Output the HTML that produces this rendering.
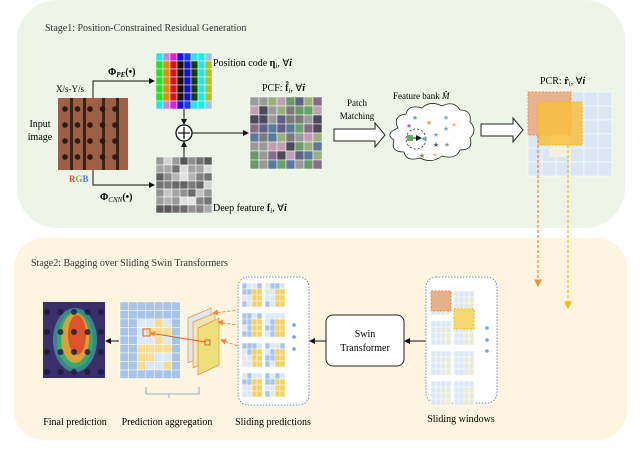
<!DOCTYPE html>
<html><head><meta charset="utf-8"><style>
body{margin:0;background:#fff;}
svg{display:block;font-family:"Liberation Serif",serif;}
</style></head><body>
<svg id="s" width="640" height="459" viewBox="0 0 640 459" xmlns="http://www.w3.org/2000/svg">
<defs>
<marker id="ah" markerWidth="6" markerHeight="6" refX="5" refY="3" orient="auto"><path d="M0,0 L6,3 L0,6 z" fill="#111"/></marker>
<marker id="ao" markerWidth="6" markerHeight="6" refX="5" refY="3" orient="auto"><path d="M0,0 L6,3 L0,6 z" fill="#f08a3c"/></marker>
<marker id="ay" markerWidth="6" markerHeight="6" refX="5" refY="3" orient="auto"><path d="M0,0 L6,3 L0,6 z" fill="#f5b800"/></marker>
</defs>
<rect x="17" y="0" width="608" height="228" rx="40" fill="#eef5e8"/>
<rect x="14" y="238" width="613" height="202" rx="30" fill="#fdf5df"/>
<text x="45" y="31" font-size="10" fill="#333">Stage1: Position-Constrained Residual Generation</text>
<text x="31" y="266" font-size="10" fill="#333">Stage2: Bagging over Sliding Swin Transformers</text>

<rect x="58" y="98" width="70" height="72" fill="#9e5f47"/>
<g fill="#3a2418"><rect x="70" y="98" width="3" height="72"/><rect x="83" y="98" width="3" height="72"/><rect x="102" y="98" width="3" height="72"/><rect x="116" y="98" width="3" height="72"/></g>
<g id="dots" fill="#2a1a12"></g>
<text x="40" y="127" font-size="10" text-anchor="middle">Input</text>
<text x="40" y="140" font-size="10" text-anchor="middle">image</text>
<text x="56" y="92" font-size="9">X/s-Y/s</text>
<text x="69" y="182" font-size="9" font-weight="bold"><tspan fill="#e8503a">R</tspan><tspan fill="#6ab04c">G</tspan><tspan fill="#4a7fd0">B</tspan></text>

<path d="M93,98 V81 H154" stroke="#111" fill="none" marker-end="url(#ah)"/>
<path d="M93,170 V185 H154" stroke="#111" fill="none" marker-end="url(#ah)"/>
<text x="108" y="75" font-size="10" font-weight="bold">Φ<tspan font-size="7" font-style="italic" dy="2">PE</tspan><tspan dy="-2">(•)</tspan></text>
<text x="100" y="200" font-size="10" font-weight="bold">Φ<tspan font-size="7" font-style="italic" dy="2" font-weight="normal">CNN</tspan><tspan dy="-2">(•)</tspan></text>

<g id="pos"></g>
<g id="deep"></g>
<g id="pcf"></g>
<line x1="184" y1="109" x2="184" y2="124" stroke="#111" marker-end="url(#ah)"/>
<line x1="184" y1="157" x2="184" y2="142" stroke="#111" marker-end="url(#ah)"/>
<circle cx="184" cy="133" r="8" fill="#fff" stroke="#111" stroke-width="1.3"/>
<path d="M178,133 H190 M184,127 V139" stroke="#111" stroke-width="1.3"/>
<line x1="192" y1="133" x2="248" y2="133" stroke="#111" marker-end="url(#ah)"/>
<text x="213" y="66" font-size="10">Position code <tspan font-weight="bold">η</tspan><tspan font-size="7" font-style="italic" dy="2">i</tspan><tspan dy="-2">,  ∀</tspan><tspan font-style="italic" font-weight="bold">i</tspan></text>
<text x="213" y="211" font-size="10">Deep feature <tspan font-weight="bold">f</tspan><tspan font-size="7" font-style="italic" dy="2">i</tspan><tspan dy="-2">,  ∀</tspan><tspan font-style="italic" font-weight="bold">i</tspan></text>
<text x="262" y="91" font-size="10">PCF:  <tspan font-weight="bold">f̂</tspan><tspan font-size="7" font-style="italic" dy="2">i</tspan><tspan dy="-2">, ∀</tspan><tspan font-style="italic" font-weight="bold">i</tspan></text>

<text x="357" y="106" font-size="9" text-anchor="middle">Patch</text>
<text x="357" y="119" font-size="9" text-anchor="middle">Matching</text>
<path d="M334,129 H375 V123 L385,135 L375,147 V141 H334 Z" fill="#fff" stroke="#222"/>
<text x="393" y="99" font-size="9">Feature bank <tspan font-style="italic">M̂</tspan></text>
<path d="M398,128 q-6,-12 8,-14 q2,-10 16,-6 q8,-8 20,-2 q12,-6 18,4 q12,0 10,12 q8,8 0,16 q4,12 -10,12 q-4,10 -18,6 q-10,8 -22,2 q-14,4 -16,-6 q-14,0 -10,-12 q-10,-6 4,-12z" fill="#fff" stroke="#222" stroke-width="0.8"/>
<circle cx="416" cy="139" r="10" fill="none" stroke="#222" stroke-dasharray="2,2" stroke-width="0.8"/>
<rect x="407" y="135" width="6" height="6" fill="#6aa86a"/>
<line x1="413" y1="138" x2="421" y2="138" stroke="#111" marker-end="url(#ah)"/>
<g font-size="7" text-anchor="middle">
<text x="415" y="120" fill="#6aa">★</text><text x="429" y="125" fill="#e8a020">★</text><text x="446" y="120" fill="#7aa8d8">★</text>
<text x="409" y="128" fill="#9a6ab0">★</text><text x="446" y="131" fill="#7aa8d8">★</text><text x="454" y="127" fill="#d8c0a0">★</text>
<text x="436" y="137" fill="#7aa8d8">★</text><text x="424" y="141" fill="#6aa">★</text><text x="436" y="147" fill="#555">★</text>
<text x="447" y="147" fill="#999">★</text><text x="422" y="158" fill="#7a8a5a">★</text><text x="435" y="157" fill="#d8c0a0">★</text>
</g>
<path d="M481,124 H513 V118 L523,130 L513,142 V136 H481 Z" fill="#fff" stroke="#222"/>
<text x="540" y="84" font-size="10">PCR:  <tspan font-weight="bold">r̂</tspan><tspan font-size="7" font-style="italic" dy="2">i</tspan><tspan dy="-2">,  ∀</tspan><tspan font-style="italic" font-weight="bold">i</tspan></text>
<g id="pcr"></g>
<rect x="549" y="112" width="22" height="45" fill="#f3f0dc"/>
<rect x="528" y="92" width="43" height="43" fill="#e9a87c" fill-opacity="0.85" stroke="#f08a3c" stroke-dasharray="2,1.5"/>
<rect x="538" y="102" width="44" height="43" fill="#f7c040" fill-opacity="0.85" stroke="#f5b800" stroke-dasharray="2,1.5"/>
<line x1="538" y1="135" x2="538" y2="286" stroke="#f08a3c" stroke-width="1.3" stroke-dasharray="3,2" marker-end="url(#ao)"/>
<line x1="568" y1="145" x2="568" y2="308" stroke="#f5c000" stroke-width="1.3" stroke-dasharray="3,2" marker-end="url(#ay)"/>

<rect x="43" y="302" width="62" height="76" fill="#3a2f6a"/>
<ellipse cx="75" cy="340" rx="22" ry="32" fill="#3aa8a0" opacity="0.7"/>
<ellipse cx="75" cy="340" rx="18" ry="28" fill="#40b060" opacity="0.8"/>
<ellipse cx="75" cy="338" rx="14" ry="25" fill="#f0a030" opacity="0.85"/>
<ellipse cx="77" cy="335" rx="9" ry="20" fill="#e04a2a" opacity="0.9"/>
<g id="hdots" fill="#1a1a3a" opacity="0.8"></g>
<line x1="119" y1="341" x2="106" y2="341" stroke="#111" marker-end="url(#ah)"/>
<g id="agg"></g>
<path d="M146,387 v7 h23 v4 v-4 h30 v-7" fill="none" stroke="#7a9ac8" stroke-width="0.8"/>
<g>
<polygon points="188,318 211,308 211,353 188,363" fill="#dce8f5" stroke="#f08a3c" stroke-width="0.7"/>
<polygon points="193,322 215,313 215,358 193,368" fill="#f0e6b0" stroke="#f08a3c" stroke-width="0.7"/>
<polygon points="198,328 219,318 219,365 198,375" fill="#ede07a" stroke="#f08a3c" stroke-width="0.7"/>
<rect x="205" y="340" width="5" height="5" fill="none" stroke="#e06020"/>
<rect x="143" y="329" width="7" height="7" fill="none" stroke="#e06020"/>
<line x1="205" y1="342" x2="150" y2="333" stroke="#e06020" marker-end="url(#ao)"/>
<line x1="275" y1="306" x2="213" y2="313" stroke="#f08a3c" stroke-dasharray="3,2" marker-end="url(#ao)"/>
<line x1="255" y1="328" x2="218" y2="322" stroke="#f08a3c" stroke-dasharray="3,2" marker-end="url(#ao)"/>
<line x1="275" y1="359" x2="221" y2="340" stroke="#f08a3c" stroke-dasharray="3,2" marker-end="url(#ao)"/>
</g>
<rect x="238" y="277" width="71" height="128" rx="10" fill="#fff" stroke="#6a8ed0" stroke-dasharray="1.5,1.5"/>
<g id="sp"></g>
<g fill="#7a9ee0"><circle cx="294" cy="325" r="1.8"/><circle cx="294" cy="337" r="1.8"/><circle cx="294" cy="349" r="1.8"/></g>
<rect x="326" y="315" width="78" height="51" rx="7" fill="#fff" stroke="#222"/>
<text x="365" y="337" font-size="10" text-anchor="middle">Swin</text>
<text x="365" y="351" font-size="10" text-anchor="middle">Transformer</text>
<line x1="326" y1="341" x2="310" y2="341" stroke="#111" marker-end="url(#ah)"/>
<line x1="426" y1="341" x2="405" y2="341" stroke="#111" marker-end="url(#ah)"/>
<rect x="426" y="277" width="71" height="126" rx="10" fill="#fff" stroke="#6a8ed0" stroke-dasharray="1.5,1.5"/>
<g id="sw"></g>
<rect x="431" y="291" width="20" height="20" fill="#e6b08c" stroke="#f08a3c" stroke-dasharray="2,1.5"/>
<rect x="454" y="309" width="20" height="20" fill="#f6d870" stroke="#f5b800" stroke-dasharray="2,1.5"/>
<g fill="#7a9ee0"><circle cx="487" cy="328" r="1.8"/><circle cx="487" cy="340" r="1.8"/><circle cx="487" cy="351" r="1.8"/></g>

<g font-size="10" text-anchor="middle">
<text x="75" y="425">Final prediction</text>
<text x="167" y="425">Prediction aggregation</text>
<text x="273" y="425">Sliding predictions</text>
<text x="461" y="422">Sliding windows</text>
</g>
<text x="0" y="468" font-size="10" fill="#333">2: The overview of the inference process of SemiREST. Note that all the tensors with a number of channels are all called</text>
</svg>
<script>
var NS="http://www.w3.org/2000/svg";
function R(g,x,y,w,h,f,s){var r=document.createElementNS(NS,"rect");r.setAttribute("x",x);r.setAttribute("y",y);r.setAttribute("width",w);r.setAttribute("height",h);r.setAttribute("fill",f);if(s){r.setAttribute("stroke",s);r.setAttribute("stroke-width","0.5");}document.getElementById(g).appendChild(r);}
function C(g,x,y,r){var c=document.createElementNS(NS,"circle");c.setAttribute("cx",x);c.setAttribute("cy",y);c.setAttribute("r",r);document.getElementById(g).appendChild(c);}
var rnd=(function(){var s=7;return function(){s=(s*9301+49297)%233280;return s/233280;};})();
for(var i=0;i<5;i++)for(var j=0;j<4;j++)C("dots",65+i*12.5,109+j*16,2.8);
for(var i=0;i<5;i++)for(var j=0;j<4;j++)C("hdots",47+i*13.5,312+j*20,3);
var pc=["#22e022","#e08a10","#e01020","#101010","#1010d0","#104010","#20e8e0","#b0c020"];
var pc0=["#20e8e0","#d080e0","#e020d0","#1010d0","#1040e0","#20e8e0","#20e8e0","#a0c0e0"];
for(var c=0;c<8;c++)for(var r=0;r<7;r++)R("pos",156+c*7,53+r*8,7,8,r==0?pc0[c]:(r==6?pc0[c]:pc[c]),"#fff");
for(var c=0;c<7;c++)for(var r=0;r<7;r++){var v=Math.floor(80+rnd()*150);R("deep",156+c*8,157+r*8,8,8,"rgb("+v+","+v+","+v+")","#fff");}
var pf=["#6a9a6a","#8a6a8a","#5a7a9a","#7a7a7a","#9a9a9a","#6aa06a","#4a4a5a","#c0a0b0","#9ab07a","#606080"];
for(var c=0;c<8;c++)for(var r=0;r<8;r++)R("pcf",250+c*9,97+r*9,9,9,pf[Math.floor(rnd()*pf.length)],"#fff");
for(var c=0;c<6;c++)for(var r=0;r<6;r++)R("pcr",528+c*14,92+r*14,14,14,"#dae6f4","#fff");
for(var c=0;c<7;c++)for(var r=0;r<9;r++){var f=(c>=2&&c<=5&&r>=2&&r<=7)?((rnd()<0.2)?"#dce8f5":"#f8dc90"):"#a8c4e8";R("agg",120+c*8.6,302+r*8.5,8.6,8.5,f,"#fff");}
for(var a=0;a<2;a++)for(var b=0;b<4;b++){var x0=242+a*23,y0=283+b*30;for(var c=0;c<4;c++)for(var r=0;r<4;r++){var f=(c>1&&r>0)?"#f6d060":(rnd()<0.5?"#a8c4e8":"#dce8f5");R("sp",x0+c*5,y0+r*6,5,6,f,"#fff");}}
for(var a=0;a<2;a++)for(var b=0;b<4;b++){var x0=431+a*23,y0=291+b*30;for(var c=0;c<4;c++)for(var r=0;r<4;r++){var f=(c>=2&&r>0)?"#e6ecd8":"#dce8f5";R("sw",x0+c*5,y0+r*6,5,6,f,"#fff");}}
</script>
</body></html>
